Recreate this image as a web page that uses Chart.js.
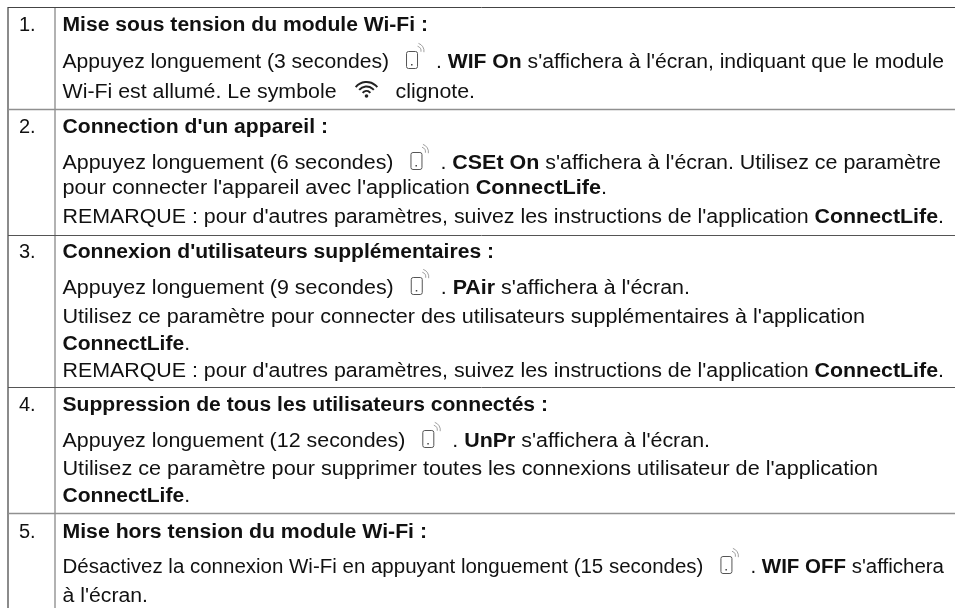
<!DOCTYPE html>
<html lang="fr">
<head>
<meta charset="utf-8">
<title>Wi-Fi</title>
<script src="https://cdn.jsdelivr.net/npm/chart.js@4"></script>
<style>
html, body { margin: 0; background: #fff; }
canvas { display: block; }
</style>
</head>
<body>
<canvas id="tableChart" width="955" height="608"></canvas>
<script>
// Table content
const rowNumbers = ['1.', '2.', '3.', '4.', '5.'];
const rowEdges = [7.5, 109.5, 235.5, 387.5, 513.5];
const rowEdgeColors = ['#444', '#909090', '#555', '#555', '#909090'];
const rowEdgeWidths = [1, 1.6, 1, 1, 1.6];
const columnEdges = [8, 55];
const columnEdgeColors = ['#666', '#999'];

// ** = bold, {phone} and {wifi} = icons
const textLines = [
  "**Mise sous tension du module Wi-Fi :**",
  "Appuyez longuement (3 secondes){phone}. **WIF On** s'affichera à l'écran, indiquant que le module",
  "Wi-Fi est allumé. Le symbole{wifi}clignote.",
  "**Connection d'un appareil :**",
  "Appuyez longuement (6 secondes){phone}. **CSEt On** s'affichera à l'écran. Utilisez ce paramètre",
  "pour connecter l'appareil avec l'application **ConnectLife**.",
  "REMARQUE : pour d'autres paramètres, suivez les instructions de l'application **ConnectLife**.",
  "**Connexion d'utilisateurs supplémentaires :**",
  "Appuyez longuement (9 secondes){phone}. **PAir** s'affichera à l'écran.",
  "Utilisez ce paramètre pour connecter des utilisateurs supplémentaires à l'application",
  "**ConnectLife**.",
  "REMARQUE : pour d'autres paramètres, suivez les instructions de l'application **ConnectLife**.",
  "**Suppression de tous les utilisateurs connectés :**",
  "Appuyez longuement (12 secondes){phone}. **UnPr** s'affichera à l'écran.",
  "Utilisez ce paramètre pour supprimer toutes les connexions utilisateur de l'application",
  "**ConnectLife**.",
  "**Mise hors tension du module Wi-Fi :**",
  "Désactivez la connexion Wi-Fi en appuyant longuement (15 secondes){phone}. **WIF OFF** s'affichera",
  "à l'écran."
];
const lineBaselines = [31, 68, 98, 132.5, 169, 194, 223, 257.5, 294, 323, 350, 377, 411, 447, 475, 502, 538, 573, 602];
const lineEnds = [428, 944, 475, 328, 941, 607, 944, 494, 690, 865, 190, 944, 548, 710, 878, 190, 427, 944, 148];
const rowNumberBaselines = [31, 132.5, 257.5, 411, 538];

const FONT_SIZE = 20;
const TEXT_COLOR = '#111';
const FONT_FAMILY = '"Liberation Sans", Arial, sans-serif';
const PHONE_GAP = 47;
const WIFI_GAP = 59;

function drawPhone(ctx, x, baseline) {
  ctx.save();
  ctx.strokeStyle = '#555';
  ctx.lineWidth = 1;
  ctx.beginPath();
  ctx.roundRect(x + 0.5, baseline - 16.5, 11, 17, 2);
  ctx.stroke();
  ctx.fillStyle = '#444';
  ctx.fillRect(x + 5, baseline - 4, 1.5, 1.5);
  // signal arcs
  ctx.lineWidth = 0.7;
  ctx.strokeStyle = '#777';
  [5, 8].forEach(r => {
    ctx.beginPath();
    ctx.arc(x + 10, baseline - 17, r, -Math.PI * 0.4, 0.15);
    ctx.stroke();
  });
  ctx.restore();
}

function drawWifi(ctx, x, baseline) {
  ctx.save();
  const cx = x + 30, cy = baseline - 2;
  ctx.strokeStyle = '#222';
  ctx.lineWidth = 2;
  [5, 9.5, 14].forEach(r => {
    ctx.beginPath();
    ctx.arc(cx, cy, r, -Math.PI * 0.78, -Math.PI * 0.22);
    ctx.stroke();
  });
  ctx.fillStyle = '#222';
  ctx.beginPath();
  ctx.arc(cx, cy, 1.8, 0, Math.PI * 2);
  ctx.fill();
  ctx.restore();
}

function splitLine(line) {
  return line.split(/(\*\*.*?\*\*|\{phone\}|\{wifi\})/).filter(p => p !== '');
}

function setRunFont(ctx, part) {
  ctx.font = `${part.startsWith('**') ? 'bold ' : ''}${FONT_SIZE}px ${FONT_FAMILY}`;
}

function runText(part) {
  return part.startsWith('**') ? part.slice(2, -2) : part;
}

// horizontal stretch that makes the line finish where it does in the picture
function fitStretch(ctx, parts, x, end) {
  let textWidth = 0;
  let gaps = 0;
  parts.forEach(part => {
    if (part === '{phone}') gaps += PHONE_GAP;
    else if (part === '{wifi}') gaps += WIFI_GAP;
    else {
      setRunFont(ctx, part);
      textWidth += ctx.measureText(runText(part)).width;
    }
  });
  return (end - x - gaps) / textWidth;
}

function drawLine(ctx, line, x, baseline, end) {
  const parts = splitLine(line);
  const stretch = fitStretch(ctx, parts, x, end);
  parts.forEach(part => {
    if (part === '{phone}') {
      drawPhone(ctx, x + 17, baseline);
      x += PHONE_GAP;
    } else if (part === '{wifi}') {
      drawWifi(ctx, x, baseline);
      x += WIFI_GAP;
    } else {
      setRunFont(ctx, part);
      ctx.save();
      ctx.translate(x, baseline);
      ctx.scale(stretch, 1);
      ctx.fillText(runText(part), 0, 0);
      ctx.restore();
      x += ctx.measureText(runText(part)).width * stretch;
    }
  });
}

const tableTextPlugin = {
  id: 'tableText',
  afterDatasetsDraw(chart) {
    const ctx = chart.ctx;
    const xScale = chart.scales.x;
    const yScale = chart.scales.y;
    ctx.save();
    ctx.fillStyle = TEXT_COLOR;
    ctx.textBaseline = 'alphabetic';
    ctx.fontKerning = 'normal';
    ctx.font = `${FONT_SIZE}px ${FONT_FAMILY}`;
    rowNumbers.forEach((num, i) => {
      ctx.fillText(num, xScale.getPixelForValue(19), yScale.getPixelForValue(rowNumberBaselines[i]));
    });
    textLines.forEach((line, i) => {
      drawLine(ctx, line, xScale.getPixelForValue(62.5), yScale.getPixelForValue(lineBaselines[i]), xScale.getPixelForValue(lineEnds[i]));
    });
    ctx.restore();
  }
};

function lineDataset(points, color, width) {
  return { data: points, showLine: true, borderColor: color, borderWidth: width, pointRadius: 0, clip: false };
}

const datasets = [
  ...rowEdges.map((y, i) => lineDataset([{ x: 8, y }, { x: 955, y }], rowEdgeColors[i], rowEdgeWidths[i])),
  ...columnEdges.map((x, i) => lineDataset([{ x, y: 7 }, { x, y: 608 }], columnEdgeColors[i], 1.5))
];

new Chart(document.getElementById('tableChart'), {
  type: 'scatter',
  data: { datasets },
  options: {
    responsive: false,
    animation: false,
    layout: { padding: 0 },
    plugins: { legend: { display: false }, tooltip: { enabled: false } },
    scales: {
      x: { type: 'linear', display: false, min: 0, max: 955 },
      y: { type: 'linear', display: false, min: 0, max: 608, reverse: true }
    }
  },
  plugins: [tableTextPlugin]
});
</script>
</body>
</html>
